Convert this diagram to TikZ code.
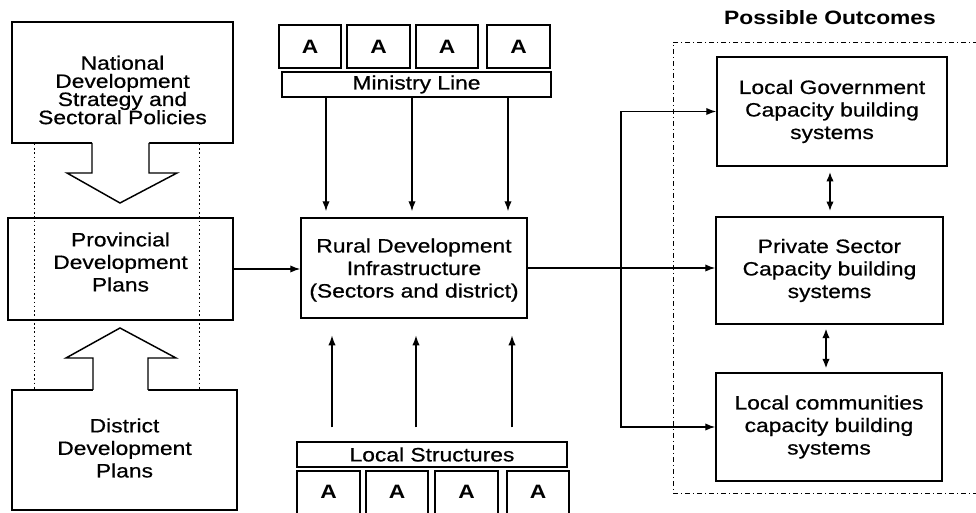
\documentclass[tikz,border=0pt]{standalone}
\usepackage{fontspec}
\setmainfont{Liberation Sans}[FakeStretch=1.18, UprightFeatures={FakeBold=0.6}]
\usetikzlibrary{arrows.meta,fit,calc}
\newcommand{\dtxt}{\fontsize{14.5}{16.9}\selectfont}
\newcommand{\ntxt}{\fontsize{14.5}{13.6}\selectfont}
\begin{document}
\begin{tikzpicture}[x=0.75pt,y=-0.75pt,
  box/.style={draw, line width=1.1pt, inner sep=0pt},
  txt/.style={align=center, inner sep=0pt, font=\dtxt},
  abox/.style={draw, line width=1pt, inner sep=0pt},
  atxt/.style={inner sep=0pt, font=\dtxt\bfseries},
  arr/.style={line width=1pt, -{Latex[length=7.5pt,width=5.5pt]}},
  darr/.style={line width=1pt, {Latex[length=7pt,width=5.5pt]}-{Latex[length=7pt,width=5.5pt]}},
  blockarrow/.style={line width=1.1pt},
  dotline/.style={line width=0.7pt, dash pattern=on 1.2pt off 2pt},
  outbox/.style={draw, line width=0.7pt, inner sep=0pt, dash pattern=on 4pt off 2pt on 1pt off 2pt}]
\useasboundingbox (0,0) rectangle (976,513);
\clip (0,0) rectangle (976,513);

% ---------- left column ----------
\node[box, fit={(12,22)(233,143)}] (nat) {};
\node[txt, font=\ntxt] (natT) at (122.5,90) {National\\Development\\Strategy and\\Sectoral Policies};
\node[box, fit={(8,218)(233,320)}] (prov) {};
\node[txt] (provT) at (120.5,262) {Provincial\\Development\\Plans};
\node[box, fit={(12,390)(237,510)}] (dist) {};
\node[txt] (distT) at (124.5,448) {District\\Development\\Plans};

\fill[white] (92,141) -- (92,173) -- (67,173) -- (120,203) -- (177,173) -- (149,173) -- (149,141) -- cycle;
\draw[blockarrow] (92,143) -- (92,173) -- (67,173) -- (120,203) -- (177,173) -- (149,173) -- (149,143);
\fill[white] (93,392) -- (93,358) -- (66,358) -- (120,328) -- (176,358) -- (148,358) -- (148,392) -- cycle;
\draw[blockarrow] (93,390) -- (93,358) -- (66,358) -- (120,328) -- (176,358) -- (148,358) -- (148,390);

\coordinate (dl) at (34,0);
\coordinate (dr) at (199,0);
\draw[dotline] (nat.south -| dl) -- (dist.north -| dl);
\draw[dotline] (nat.south -| dr) -- (dist.north -| dr);

% ---------- middle column ----------
\node[abox, fit={(279,25)(341,68)}] (ta1) {};
\node[abox, fit={(347,25)(410,68)}] (ta2) {};
\node[abox, fit={(416,25)(478,68)}] (ta3) {};
\node[abox, fit={(487,25)(550,68)}] (ta4) {};
\foreach \b in {ta1,ta2,ta3,ta4}
  \node[atxt] (\b T) at (\b.center) {A};
\node[box, fit={(282,72)(551,97)}] (min) {};
\node[txt] (minT) at (min.center) {Ministry Line};

\node[box, fit={(301,218)(527,318)}] (rural) {};
\node[txt] (ruralT) at (414,270) {Rural Development\\Infrastructure\\(Sectors and district)};

\node[box, fit={(297,442)(567,467)}] (loc) {};
\node[txt] (locT) at (loc.center) {Local Structures};
\node[abox, fit={(297,471)(360,520)}] (ba1) {};
\node[abox, fit={(366,471)(428,520)}] (ba2) {};
\node[abox, fit={(435,471)(498,520)}] (ba3) {};
\node[abox, fit={(507,471)(569,520)}] (ba4) {};
\foreach \b in {ba1,ba2,ba3,ba4}
  \node[atxt] (\b T) at ($(\b.north)+(0,22)$) {A};

\coordinate (d1) at (326,0);
\coordinate (d2) at (412,0);
\coordinate (d3) at (508,0);
\foreach \c in {d1,d2,d3}
  \draw[arr, shorten >=4.5pt] (min.south -| \c) -- (rural.north -| \c);
\coordinate (u1) at (332,0);
\coordinate (u2) at (416,0);
\coordinate (u3) at (512,0);
\foreach \c in {u1,u2,u3}
  \draw[arr, shorten <=10.5pt, shorten >=12.5pt] (loc.north -| \c) -- (rural.south -| \c);

\draw[arr] (prov.east) -- (prov.east -| rural.west);

% ---------- right column ----------
\node[font=\dtxt\bfseries] (po) at (830,18) {Possible Outcomes};
\node[outbox, fit={(673,42)(990,493)}] (out) {};

\node[box, fit={(717,57)(947,166)}] (lg) {};
\node[txt] (lgT) at (lg.center) {Local Government\\Capacity building\\systems};
\node[box, fit={(716,217)(943,324)}] (ps) {};
\node[txt] (psT) at (ps.center) {Private Sector\\Capacity building\\systems};
\node[box, fit={(716,373)(942,481)}] (lc) {};
\node[txt] (lcT) at (lc.center) {Local communities\\capacity building\\systems};

\coordinate (jn) at (621,0);
\draw[arr] (rural.east) -- (ps.west |- rural.east);
\draw[arr] (jn |- rural.east) -- (jn |- lg.west) -- (lg.west);
\draw[arr] (jn |- rural.east) -- (jn |- lc.west) -- (lc.west);

\coordinate (v1) at (830,0);
\coordinate (v2) at (826,0);
\draw[darr, shorten <=4pt, shorten >=4pt] (lg.south -| v1) -- (ps.north -| v1);
\draw[darr, shorten <=3pt, shorten >=3pt] (ps.south -| v2) -- (lc.north -| v2);
\end{tikzpicture}
\end{document}
